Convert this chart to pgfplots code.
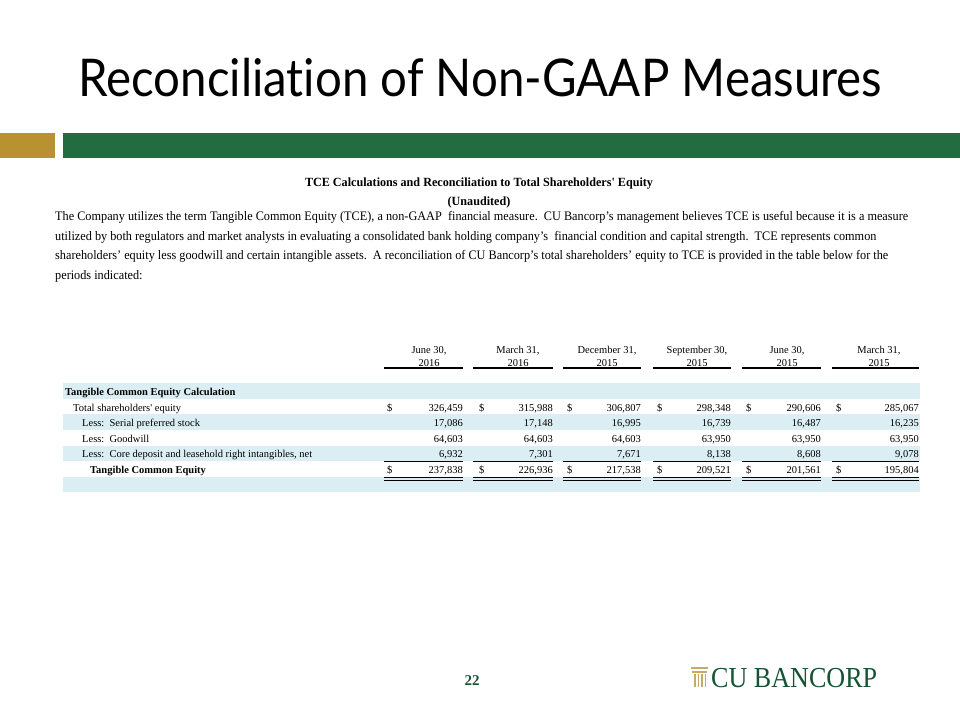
\documentclass[border=0pt]{standalone}
\usepackage{pgfplots}
\pgfplotsset{compat=1.18}
\usepackage{pgfplotstable}
\usepackage{graphicx}
\usepackage{fontspec}
\setmainfont{Liberation Serif}
\newfontfamily\titlefont[Ligatures={NoCommon,NoRare,NoDiscretionary}]{Lato}
\definecolor{barGreen}{RGB}{35,108,64}
\definecolor{barGold}{RGB}{184,146,48}
\definecolor{band}{RGB}{219,238,243}
\definecolor{logoGreen}{RGB}{22,82,52}
\definecolor{logoGold}{RGB}{201,168,106}

\newsavebox\fitbox
\newcommand\fitw[2]{\sbox\fitbox{#2}\pgfmathsetmacro\fitsx{#1/\the\wd\fitbox}\global\let\lastsx\fitsx\scalebox{\fitsx}[1]{\usebox\fitbox}}
\newcommand\samew[1]{\scalebox{\lastsx}[1]{#1}}

\pgfplotstableread{
y c1 c2 c3 c4 c5 c6
407 326459 315988 306807 298348 290606 285067
422 17086 17148 16995 16739 16487 16235
438 64603 64603 64603 63950 63950 63950
453 6932 7301 7671 8138 8608 9078
469 237838 226936 217538 209521 201561 195804
}\tce

\begin{document}
\begin{tikzpicture}
\begin{axis}[scale only axis, width=960bp, height=720bp,
  xmin=0, xmax=960, ymin=0, ymax=720, y dir=reverse,
  hide axis, clip=false,
  /pgf/number format/.cd, fixed, precision=0, 1000 sep={,}, assume math mode=true]
% background
\fill[white] (axis cs:0,0) rectangle (axis cs:960,720);
% title
\node[anchor=base west, inner sep=0] at (axis cs:78,97) {\fitw{804bp}{\titlefont\fontsize{52bp}{60bp}\selectfont Reconciliation of Non-GAAP Measures}};
\fill[barGold] (axis cs:0,133) rectangle (axis cs:55,158);
\fill[barGreen] (axis cs:63,133) rectangle (axis cs:960,158);
% heading
\node[anchor=base, inner sep=0] at (axis cs:479,187) {\fitw{348bp}{\fontsize{12.5bp}{14bp}\selectfont\bfseries TCE Calculations and Reconciliation to Total Shareholders\textquotesingle{} Equity}};
\node[anchor=base, inner sep=0] at (axis cs:479,205) {\scalebox{\lastsx}[1]{\fontsize{12.5bp}{14bp}\selectfont\bfseries (Unaudited)}};
% paragraph
\node[anchor=base west, inner sep=0] at (axis cs:55,220) {\fitw{853bp}{\fontsize{13bp}{15bp}\selectfont The Company utilizes the term Tangible Common Equity (TCE), a non-GAAP\ \ financial measure.\ \ CU Bancorp’s management believes TCE is useful because it is a measure}};
\node[anchor=base west, inner sep=0] at (axis cs:55,240) {\samew{\fontsize{13bp}{15bp}\selectfont utilized by both regulators and market analysts in evaluating a consolidated bank holding company’s\ \ financial condition and capital strength.\ \ TCE represents common}};
\node[anchor=base west, inner sep=0] at (axis cs:55,259) {\samew{\fontsize{13bp}{15bp}\selectfont shareholders’ equity less goodwill and certain intangible assets.\ \ A reconciliation of CU Bancorp’s total shareholders’ equity to TCE is provided in the table below for the}};
\node[anchor=base west, inner sep=0] at (axis cs:55,279) {\samew{\fontsize{13bp}{15bp}\selectfont periods indicated:}};
% bands
\fill[band] (axis cs:63,383) rectangle (axis cs:920,399);
\fill[band] (axis cs:63,414) rectangle (axis cs:920,430);
\fill[band] (axis cs:63,446) rectangle (axis cs:920,461);
\fill[band] (axis cs:63,477) rectangle (axis cs:920,492);
% column rules
\foreach \xa/\xb in {384/463, 473/553, 563/641, 653/731, 742/821, 832/919}{
  \edef\temp{\noexpand\draw[black, line width=1.1bp] (axis cs:\xa,368) -- (axis cs:\xb,368);
    \noexpand\draw[black, line width=0.9bp] (axis cs:\xa,461) -- (axis cs:\xb,461);
    \noexpand\draw[black, line width=0.9bp] (axis cs:\xa,477.3) -- (axis cs:\xb,477.3);
    \noexpand\draw[black, line width=0.9bp] (axis cs:\xa,480) -- (axis cs:\xb,480);}
  \temp
}
% column headers
\foreach \xc/\la/\lb in {429/{June 30,}/2016, 518/{March 31,}/2016, 607/{December 31,}/2015, 697/{September 30,}/2015, 787/{June 30,}/2015, 879/{March 31,}/2015}{
  \edef\temp{\noexpand\node[anchor=base, inner sep=0, font=\noexpand\fontsize{10.5bp}{12bp}\noexpand\selectfont] at (axis cs:\xc,353) {\la};
    \noexpand\node[anchor=base, inner sep=0, font=\noexpand\fontsize{10.5bp}{12bp}\noexpand\selectfont] at (axis cs:\xc,366) {\lb};}
  \temp
}
% row labels
\node[anchor=base west, inner sep=0, font=\fontsize{10.5bp}{12bp}\selectfont\bfseries] at (axis cs:65,395) {Tangible\ Common\ Equity\ Calculation};
\node[anchor=base west, inner sep=0, font=\fontsize{10.5bp}{12bp}\selectfont] at (axis cs:73,411) {Total\ shareholders\textquotesingle\ equity};
\node[anchor=base west, inner sep=0, font=\fontsize{10.5bp}{12bp}\selectfont] at (axis cs:82,426) {Less:\ \ Serial\ preferred\ stock};
\node[anchor=base west, inner sep=0, font=\fontsize{10.5bp}{12bp}\selectfont] at (axis cs:82,442) {Less:\ \ Goodwill};
\node[anchor=base west, inner sep=0, font=\fontsize{10.5bp}{12bp}\selectfont] at (axis cs:82,457) {Less:\ \ Core\ deposit\ and\ leasehold\ right\ intangibles,\ net};
\node[anchor=base west, inner sep=0, font=\fontsize{10.5bp}{12bp}\selectfont\bfseries] at (axis cs:90,473) {Tangible\ Common\ Equity};
% dollar signs
\foreach \xd in {387,479,567,657,746,836}{
  \edef\temp{\noexpand\node[anchor=base west, inner sep=0, font=\noexpand\fontsize{10.5bp}{12bp}\noexpand\selectfont] at (axis cs:\xd,411) {\noexpand\$};
   \noexpand\node[anchor=base west, inner sep=0, font=\noexpand\fontsize{10.5bp}{12bp}\noexpand\selectfont] at (axis cs:\xd,473) {\noexpand\$};}
  \temp
}
% values
\pgfplotsset{valstyle/.style={draw=none, mark=none, nodes near coords, point meta=explicit,
   every node near coord/.append style={anchor=base east, inner sep=0, yshift=-4bp, font=\fontsize{10.5bp}{12bp}\selectfont, text=black}}}
\addplot[valstyle] table[x expr=463, y=y, meta=c1] {\tce};
\addplot[valstyle] table[x expr=553, y=y, meta=c2] {\tce};
\addplot[valstyle] table[x expr=641, y=y, meta=c3] {\tce};
\addplot[valstyle] table[x expr=731, y=y, meta=c4] {\tce};
\addplot[valstyle] table[x expr=821, y=y, meta=c5] {\tce};
\addplot[valstyle] table[x expr=919, y=y, meta=c6] {\tce};
% footer
\node[anchor=base, inner sep=0, text=logoGreen, font=\fontsize{15bp}{17bp}\selectfont\bfseries] at (axis cs:472,685) {22};
\node[anchor=base west, inner sep=0, text=logoGreen] at (axis cs:711,687) {\fitw{166bp}{\fontsize{29bp}{32bp}\selectfont CU BANCORP}};
\fill[logoGold] (axis cs:691,667) rectangle (axis cs:708,669);
\fill[logoGold] (axis cs:692,671) rectangle (axis cs:707,672.5);
\foreach \xp in {694,697.5,701,704.5}{
  \edef\temp{\noexpand\fill[logoGold] (axis cs:\xp,674) rectangle (axis cs:\xp+1.6,687);}
  \temp
}
\end{axis}
\end{tikzpicture}
\end{document}
